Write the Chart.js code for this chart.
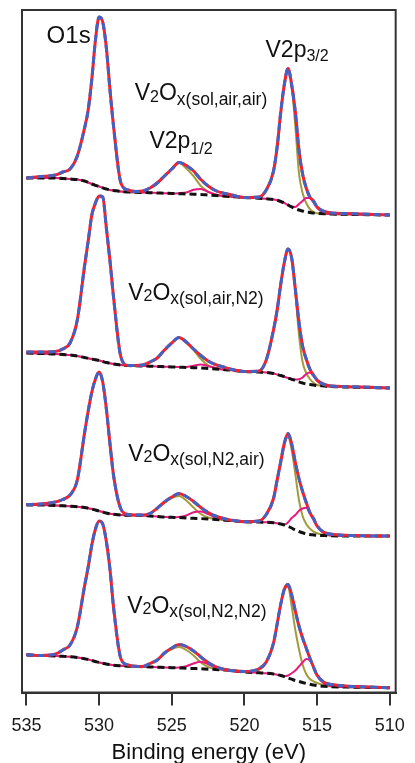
<!DOCTYPE html>
<html>
<head>
<meta charset="utf-8">
<script src="https://cdn.jsdelivr.net/npm/chart.js@4.4.1/dist/chart.umd.min.js"></script>
<style>
  html, body { margin: 0; padding: 0; background: #fff; }
</style>
</head>
<body>
<canvas id="xps" width="415" height="763"></canvas>
<script>
// Binding energy grid (eV), shared by all four spectra
const energy = [535, 534, 533, 532.5, 532, 531.5, 531, 530.75, 530.5, 530.25, 530, 529.75, 529.5, 529.25, 529,
  528.5, 528, 527.5, 527, 526.5, 526, 525.5, 525, 524.5, 524, 523.5, 523, 522.5, 522, 521.5, 521, 520, 519,
  518.5, 518, 517.75, 517.5, 517.25, 517, 516.75, 516.5, 516.25, 516, 515.75, 515.5, 515.25, 515, 514.5, 514,
  513, 512, 511, 510];

// Sub-range where the V2p components are fitted
const fitEnergy = [527, 526.5, 526, 525.5, 525, 524.5, 524, 523.5, 523, 522.5, 522, 521.5, 521, 520, 519,
  518.5, 518, 517.75, 517.5, 517.25, 517, 516.75, 516.5, 516.25, 516, 515.75, 515.5, 515.25, 515, 514.5, 514];

const sampleNames = ['sol,air,air', 'sol,air,N2', 'sol,N2,air', 'sol,N2,N2'];
const offsets = [477.5, 304.5, 156.5, 4.8];   // vertical stacking (a.u.)

// measured spectra (a.u., relative to each trace's own baseline)
const sum1 = [37, 38.5, 40, 43, 46, 59, 87, 105, 136, 175, 198, 193, 167, 125, 88, 32, 25, 23.5, 24, 27, 32, 39,
  46, 52.5, 49.5, 44, 35.5, 29, 24.5, 22, 20.5, 17.5, 18, 25, 44, 68, 103, 131, 146.5, 130, 103, 65, 41, 27, 18,
  14, 8, 3.5, 2, 1.5, 1, 0.5, 0];
const sum2 = [36, 36, 36.5, 39, 45, 68, 122, 147, 173, 185, 192, 191, 160, 127, 90, 31, 22.5, 22.5, 23, 26, 30, 38,
  45, 50.5, 46, 39, 32.5, 27, 23.5, 21.3, 19, 16.5, 17, 28, 58, 78, 104, 126, 139, 130, 99, 66, 42, 29, 19,
  13, 8, 3.5, 2, 1.3, 1, 0.5, 0];
const sum3 = [31.5, 32, 34, 36.5, 41, 56, 103, 125, 144, 157, 164, 154, 127, 92, 60, 27, 21.5, 21, 21, 22.5, 27.7,
  34, 39, 42.5, 39.5, 34.5, 28.5, 23.5, 20, 17.7, 16, 14.3, 15, 21.5, 37.5, 56, 74.5, 93, 102.5, 92, 73.5, 57.5,
  44.5, 33.5, 23.5, 17.5, 10, 3.5, 1.8, 0.7, 0.3, 0, 0];
const sum4 = [33.2, 32.2, 33.7, 37.7, 42.7, 60.7, 101.7, 120.7, 142.7, 158.7, 166.7, 163.7, 146.2, 118.2, 79.7, 29,
  22.7, 21.4, 21.2, 24.2, 27.7, 34.7, 39.7, 43.2, 41.2, 36.7, 30.7, 25.2, 21.2, 18.7, 17.2, 16.2, 19, 25.7, 44.7,
  63.7, 83.7, 98.7, 103.2, 92.7, 76.7, 61.7, 49.7, 39.7, 29.7, 20.7, 12.5, 5.2, 3.2, 1.7, 1, 0.5, 0];

// Shirley backgrounds
const bg1 = [37, 37, 37, 36.5, 36, 35.5, 34, 32.5, 31, 29.7, 28.5, 27.2, 26, 25, 24.5, 23.5, 23, 22.7, 22.5, 22.3,
  22, 21.8, 21.5, 21.3, 21, 20.8, 20.5, 20, 19.5, 19, 18.5, 17.5, 16.8, 16.2, 15.5, 14.7, 13.5, 12, 10, 8, 6.5,
  5, 4, 3, 2.5, 2, 1.7, 1.3, 1, 0.7, 0.5, 0.2, 0];
const bg2 = [35, 34.5, 34, 33.5, 33, 32, 30.5, 29.7, 29, 28.2, 27.5, 26.5, 25.5, 24.7, 24, 23, 22.5, 22.2, 22, 21.8,
  21.5, 21.3, 21, 20.8, 20.5, 20.3, 20, 19.5, 19, 18.5, 18, 16.5, 16, 15.5, 14.5, 13.5, 12.5, 11.3, 10, 8.7, 7.5,
  6.2, 5, 4, 3.5, 3, 2.5, 2, 1.5, 1, 0.7, 0.3, 0];
const bg3 = [31, 31, 30.5, 30.2, 29.8, 29.3, 28.5, 27.8, 27, 26, 25, 24, 23, 22.2, 21.7, 21, 20.8, 20.7, 20.5, 20,
  19.5, 19, 18.7, 18.4, 18, 17.7, 17.4, 17, 16.5, 16, 15.5, 14.3, 14, 13.7, 13.2, 12.7, 12, 11, 9.7, 8, 6, 4.5,
  3.2, 2.2, 1.5, 1.1, 0.8, 0.4, 0.2, 0, 0, 0, 0];
const bg4 = [32.7, 32.2, 31.7, 31.4, 31, 30.2, 29, 28.2, 27.2, 26.2, 25.2, 24.4, 23.7, 23, 22.4, 21.9, 21.5, 21.2,
  21, 20.7, 20.5, 20.2, 20, 19.7, 19.5, 19.2, 18.9, 18.5, 18.2, 17.7, 17.4, 15.7, 14.9, 14.5, 13.7, 13, 12.2, 11,
  9.7, 8.5, 7.2, 6.2, 5.2, 4.2, 3.4, 2.7, 2.2, 1.4, 1, 0.7, 0.4, 0.2, 0];

// V5+ component (olive), height above background, on fitEnergy
const v5_1 = [0, 4.5, 10, 17, 24.5, 31, 25.5, 18, 8.5, 3.5, 1, 0, 0, 0, 0.5, 8.8, 28.5, 53.5, 89.5, 119, 136.5,
  121.5, 82.5, 37, 18, 9, 3.5, 1, 0, 0, 0];
const v5_2 = [0, 4, 8.5, 16.7, 24, 29.5, 24.5, 17.7, 9, 3.2, 1, 0, 0, 0, 1, 12.5, 43.5, 64.5, 91.5, 114.7, 129,
  121.3, 88.5, 47.5, 21, 11, 5.5, 2.3, 0.5, 0, 0];
const v5_3 = [0, 2.5, 8.2, 14.5, 19.3, 21.6, 17.5, 10.8, 4.6, 1.5, 0.5, 0, 0, 0, 1, 7.8, 24.3, 43.3, 62.5, 81.5,
  89, 78, 56, 31.5, 16.8, 9.8, 6, 3.3, 1.9, 0.6, 0.2];
const v5_4 = [0, 3.2, 7.2, 14, 18.7, 21, 18.2, 13, 6.3, 2.2, 0.8, 0.2, 0, 0, 3, 11, 31, 50.7, 71.5, 87.7, 91.3,
  73, 50.5, 32.5, 18, 9.5, 5.3, 3.7, 2.5, 1, 0.3];

// V4+ component (pink), height above background, on fitEnergy
const v4_1 = [0, 0, 0, 0, 0, 0.5, 1.5, 4.5, 5.5, 3, 1, 0, 0, 0, 0, 0, 0, 0, 0, 0, 0, 0.5, 1.5, 6, 10, 14, 14.5,
  10.5, 5.5, 0.5, 0];
const v4_2 = [0, 0, 0, 0, 0, 0.3, 0.5, 2, 3.5, 2.5, 1, 0, 0, 0, 0, 0, 0, 0, 0, 0, 0, 0.3, 1, 2.5, 5.5, 10, 12, 9,
  4.5, 0.3, 0];
const v4_3 = [0, 0, 0, 0, 0, 0.5, 2.5, 6, 7, 5, 2, 0.7, 0, 0, 0, 0, 0, 0, 0, 0.5, 4, 10, 15, 20.7, 24.3, 26, 21.5,
  15, 8.7, 2, 0.3];
const v4_4 = [0, 0, 0, 0, 0, 0.5, 2, 5, 7, 5, 2, 0.5, 0, 0, 0, 0, 0, 0, 0, 0.5, 2.5, 6, 10, 15, 20, 24.5, 24, 18,
  10, 2.5, 0.5];

const xTicks = [535, 530, 525, 520, 515, 510];

const sums = [sum1, sum2, sum3, sum4];
const bgs = [bg1, bg2, bg3, bg4];
const v5s = [v5_1, v5_2, v5_3, v5_4];
const v4s = [v4_1, v4_2, v4_3, v4_4];

const FONT = '"Liberation Sans", Arial, Helvetica, sans-serif';
const COL = {
  data: '#4262c4',
  fit: '#f4202c',
  bg: '#111111',
  v4: '#e8197d',
  v5: '#a29b3a',
};

function compAt(arr, e) {
  const k = fitEnergy.indexOf(e);
  return k < 0 ? 0 : arr[k];
}

function line(data, color, width, dash, order) {
  return {
    data,
    borderColor: color,
    borderWidth: width,
    borderDash: dash || [],
    pointRadius: 0,
    fill: false,
    cubicInterpolationMode: 'monotone',
    order,
  };
}

const datasets = [];
sums.forEach((sum, s) => {
  const off = offsets[s];
  const bg = bgs[s];
  const pts = arr => energy.map((e, i) => ({ x: e, y: arr[i] + off }));
  datasets.push(line(pts(sum), COL.data, 3, [7, 4], 1));
  datasets.push(line(pts(sum), COL.fit, 3, null, 2));
  datasets.push(line(pts(bg), COL.bg, 3, [7, 4], 3));
  datasets.push(line(energy.map((e, i) => ({ x: e, y: bg[i] + compAt(v4s[s], e) + off })), COL.v4, 2, null, 4));
  datasets.push(line(energy.map((e, i) => ({ x: e, y: bg[i] + compAt(v5s[s], e) + off })), COL.v5, 2, null, 5));
});

// text annotations: [text, font size, baseline shift]
const peakLabels = [
  { e: 533.61, i: 649.5, parts: [['O1s', 24, 0]] },
  { e: 518.55, i: 635.2, parts: [['V2p', 23, 0], ['3/2', 16, 3.7]] },
  { e: 526.54, i: 544.2, parts: [['V2p', 23, 0], ['1/2', 16, 5.7]] },
];
const sampleLabelPos = [
  { e: 527.55, i: 592.5 },
  { e: 528.0, i: 393 },
  { e: 528.0, i: 232 },
  { e: 528.07, i: 79.8 },
];

function drawParts(ctx, x, y, parts) {
  parts.forEach(([t, size, dy]) => {
    ctx.font = size + 'px ' + FONT;
    ctx.fillText(t, x, y + dy);
    x += ctx.measureText(t).width;
  });
}

const framePlugin = {
  id: 'frame',
  afterDraw(chart) {
    const { ctx, chartArea: a, scales } = chart;
    ctx.save();
    ctx.strokeStyle = '#333';
    ctx.lineWidth = 2;
    ctx.strokeRect(a.left, a.top, a.right - a.left, a.bottom - a.top);

    ctx.fillStyle = '#111';
    ctx.textAlign = 'left';
    ctx.textBaseline = 'alphabetic';
    peakLabels.forEach(l => {
      drawParts(ctx, scales.x.getPixelForValue(l.e), scales.y.getPixelForValue(l.i), l.parts);
    });
    sampleLabelPos.forEach((p, s) => {
      drawParts(ctx, scales.x.getPixelForValue(p.e), scales.y.getPixelForValue(p.i), [
        ['V', 23, 0], ['2', 16, 1.5], ['O', 23, 0], ['x(' + sampleNames[s] + ')', 17.5, 4.5],
      ]);
    });
    ctx.restore();
  },
};

Chart.defaults.font.family = FONT;

new Chart(document.getElementById('xps'), {
  type: 'line',
  data: { datasets },
  plugins: [framePlugin],
  options: {
    responsive: false,
    animation: false,
    devicePixelRatio: 1,
    layout: { padding: { left: 22, right: 12.5, top: 10, bottom: 0 } },
    plugins: { legend: { display: false }, tooltip: { enabled: false } },
    scales: {
      x: {
        type: 'linear',
        reverse: true,
        min: 509.595,
        max: 535.304,
        afterBuildTicks: scale => { scale.ticks = xTicks.map(v => ({ value: v })); },
        afterFit: scale => { scale.height = 70.5; },
        grid: { drawOnChartArea: false, drawTicks: true, tickLength: 13, color: '#333', lineWidth: 2 },
        border: { display: true, color: '#333', width: 2 },
        ticks: { color: '#1a1a1a', font: { size: 18 }, padding: 10, maxRotation: 0 },
        title: {
          display: true,
          text: 'Binding energy (eV)',
          color: '#111',
          font: { size: 22, lineHeight: 0.96 },
          padding: 0,
        },
      },
      y: { display: false, min: 0, max: 682.5 },
    },
  },
});
</script>
</body>
</html>
